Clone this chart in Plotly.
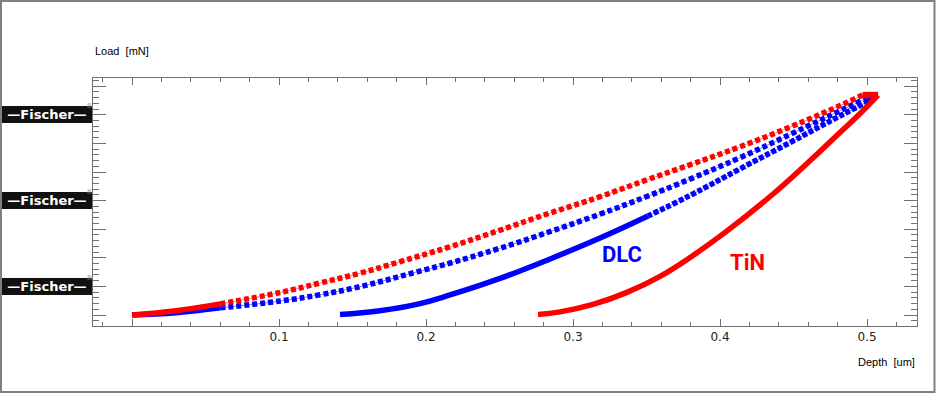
import plotly.graph_objects as go

# ---------------- data ----------------
# TiN (red): loading branch
tin_load_depth = [0.0, 0.030, 0.060, 0.101, 0.128, 0.155, 0.182, 0.216, 0.250, 0.284,
                  0.318, 0.351, 0.380, 0.414, 0.448, 0.482, 0.497]
tin_load_load = [0.0, 0.15, 0.39, 0.79, 1.12, 1.46, 1.86, 2.38, 2.96, 3.56,
                 4.13, 4.74, 5.26, 5.89, 6.58, 7.33, 7.69]
# TiN (red): unloading branch
tin_unload_depth = [0.5075, 0.4932, 0.4816, 0.4592, 0.4361, 0.4048, 0.3816, 0.3592,
                    0.3367, 0.3136, 0.2912, 0.2762]
tin_unload_load = [7.69, 6.94, 6.38, 5.30, 4.23, 2.94, 2.08, 1.35,
                   0.79, 0.37, 0.11, 0.02]

# DLC (blue): loading branch
dlc_load_depth = [0.0, 0.030, 0.060, 0.101, 0.128, 0.155, 0.194, 0.216, 0.250, 0.284,
                  0.318, 0.351, 0.380, 0.414, 0.448, 0.482, 0.500]
dlc_load_load = [0.0, 0.08, 0.25, 0.49, 0.71, 0.99, 1.51, 1.81, 2.33, 2.91,
                 3.52, 4.16, 4.76, 5.51, 6.32, 7.15, 7.59]
# DLC (blue): unloading branch
dlc_unload_depth = [0.5055, 0.4816, 0.4476, 0.4136, 0.3796, 0.3510, 0.3184, 0.2844,
                    0.2503, 0.2163, 0.1959, 0.1687, 0.1415]
dlc_unload_load = [7.59, 6.96, 6.03, 5.11, 4.18, 3.46, 2.69, 1.96,
                   1.28, 0.70, 0.40, 0.15, 0.02]

x_tick_vals = [0.0, 0.1, 0.2, 0.3, 0.4, 0.5]
x_tick_text = ["", "0.1", "0.2", "0.3", "0.4", "0.5"]
logo_loads = [1, 4, 7]

RED = "#ff0000"
BLUE = "#0000ff"
AX = "#707070"

fig = go.Figure()


def line(x, y, color, width, dash="solid"):
    fig.add_trace(go.Scatter(
        x=x, y=y, mode="lines",
        line=dict(color=color, width=width, dash=dash, shape="spline", smoothing=1.2),
        hoverinfo="skip", showlegend=False))


# DLC (drawn first, red lies on top at the origin)
line(dlc_load_depth, dlc_load_load, "rgba(110,110,255,0.9)", 1)
line(dlc_unload_depth[:6], dlc_unload_load[:6], "rgba(110,110,255,0.9)", 1)
line(dlc_load_depth[:3], dlc_load_load[:3], BLUE, 5.5)
line(dlc_load_depth[2:], dlc_load_load[2:], BLUE, 5.5, "5px,3px")
line([dlc_load_depth[-1], dlc_unload_depth[0]], [dlc_load_load[-1], dlc_unload_load[0]], BLUE, 6)
line(dlc_unload_depth[:6], dlc_unload_load[:6], BLUE, 5.5, "5px,2px")
line(dlc_unload_depth[5:], dlc_unload_load[5:], BLUE, 5.5)

# TiN
line(tin_load_depth, tin_load_load, "rgba(255,110,110,0.9)", 1)
line(tin_load_depth[:3], tin_load_load[:3], RED, 5.5)
line(tin_load_depth[2:], tin_load_load[2:], RED, 5.5, "5px,3px")
line([tin_load_depth[-1], tin_unload_depth[0]], [tin_load_load[-1], tin_unload_load[0]], RED, 6.5)
line(tin_unload_depth, tin_unload_load, RED, 5.5)

# curve labels
fig.add_annotation(x=0.3331, y=2.10, text="<b>DLC</b>", showarrow=False,
                   font=dict(family="Roboto, Arial, sans-serif", size=22, color=BLUE))
fig.add_annotation(x=0.4187, y=1.82, text="<b>TiN</b>", showarrow=False,
                   font=dict(family="Roboto, Arial, sans-serif", size=22, color=RED))

# axis titles
fig.add_annotation(xref="paper", yref="paper", x=0, y=1.109, xanchor="left", yanchor="middle",
                   text="Load\u00a0 [mN]", showarrow=False,
                   font=dict(family="Liberation Sans, Arial, sans-serif", size=11, color="#000"))
fig.add_annotation(xref="paper", yref="paper", x=1, y=-0.147, xanchor="right", yanchor="middle",
                   text="Depth\u00a0 [um]", showarrow=False,
                   font=dict(family="Liberation Sans, Arial, sans-serif", size=11, color="#000"))

# Fischer logos used as y tick labels
for v in logo_loads:
    fig.add_annotation(xref="paper", yref="y", x=(2 - 93) / 824, y=v, xanchor="left", yanchor="middle",
                       text="<b>\u2014Fischer\u2014</b>", showarrow=False, bgcolor="#111111",
                       width=88, height=15, borderpad=0, borderwidth=1, bordercolor="#111111",
                       font=dict(family="DejaVu Sans, sans-serif", size=13, color="#ffffff"))
    fig.add_annotation(xref="paper", yref="y", x=(89 - 93) / 824, y=v + 0.30, xanchor="center",
                       yanchor="middle", text="\u00ae", showarrow=False,
                       font=dict(family="DejaVu Sans, sans-serif", size=7, color="#999999"))

# outer window frame
fig.add_shape(type="rect", xref="paper", yref="paper",
              x0=(1 - 93) / 824, x1=(934.5 - 93) / 824, y0=(326 - 392) / 248, y1=(326 - 1) / 248,
              line=dict(color="#808080", width=2), fillcolor="rgba(0,0,0,0)", layer="below")

fig.update_xaxes(range=[-0.02653, 0.5340], tickvals=x_tick_vals, ticktext=x_tick_text,
                 ticks="inside", ticklen=7, tickcolor=AX, tickwidth=1,
                 minor=dict(dtick=0.02, tick0=0, ticks="inside", ticklen=4, tickcolor=AX),
                 showline=True, linecolor=AX, linewidth=1, mirror="allticks",
                 showgrid=False, zeroline=False,
                 tickfont=dict(family="DejaVu Sans, sans-serif", size=12, color="#222"))
fig.update_yaxes(range=[-0.3846, 8.2867], dtick=1, tick0=0, showticklabels=False,
                 ticks="inside", ticklen=13, tickcolor=AX, tickwidth=1,
                 minor=dict(dtick=0.2, tick0=0, ticks="inside", ticklen=6, tickcolor=AX),
                 showline=True, linecolor=AX, linewidth=1, mirror="allticks",
                 showgrid=False, zeroline=False)

fig.update_layout(width=936, height=393, margin=dict(l=93, r=19, t=78, b=67),
                  paper_bgcolor="white", plot_bgcolor="white", showlegend=False)

fig.write_html("out.html", config={"displayModeBar": False},
               post_script="document.body.style.margin='0px';document.body.style.overflow='hidden';")
